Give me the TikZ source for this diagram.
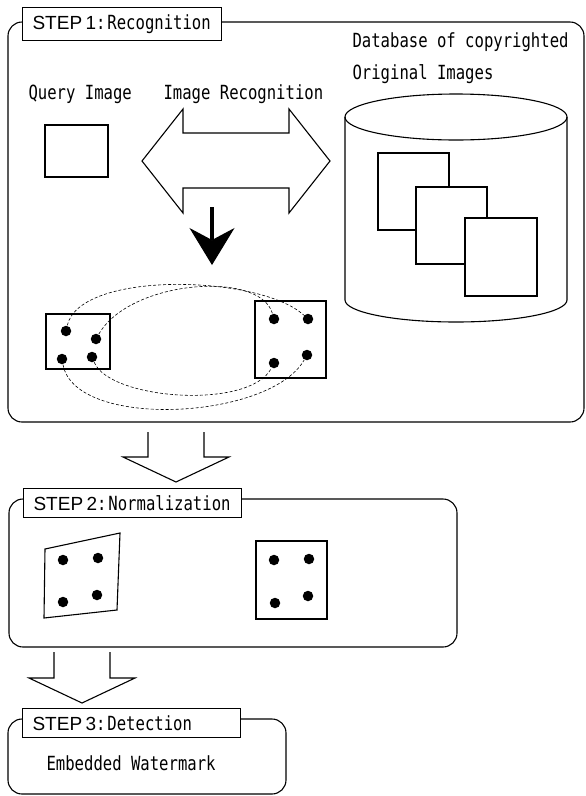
\documentclass[tikz,border=0pt]{standalone}
\usepackage{fontspec}
\setsansfont{Liberation Sans}
\newfontfamily\gothic[FakeStretch=0.8]{DejaVu Sans Mono}
\newcommand\gothicfont{\gothic\fontsize{19.5}{22}\selectfont}
\newcommand\stepfont{\sffamily\fontsize{19}{21}\selectfont}
\usetikzlibrary{arrows.meta}

\begin{document}
\begin{tikzpicture}[x=1pt,y=-1pt,line width=1.1pt,
  txt/.style={anchor=base west,inner sep=0pt,font=\gothicfont},
  steplabel/.style={draw,fill=white,anchor=north west,minimum height=29pt,
    inner xsep=10pt,inner ysep=0pt,align=left,text width=198pt},
  stepframe/.style={rounded corners=14pt},
  dot/.style={circle,fill,inner sep=0pt,minimum size=10.5pt},
  match/.style={line width=.6pt,dash pattern=on 3pt off 2pt}]
  \fill[white] (0,0) rectangle (586,796);
  \useasboundingbox (0,0) rectangle (586,796);

  % step 1 frame
  \draw[stepframe] (8,22) rectangle (584,422);
  \node[steplabel,text width=179pt,minimum height=33pt] (lbl1) at (22,7)
    {\stepfont STEP 1\gothicfont:\kern2pt Recognition};

  \node[txt] (query) at (28,99) {Query Image};
  \node[txt] (recog) at (163,99) {Image Recognition};
  \node[txt] (db1) at (352,47) {Database of copyrighted};
  \node[txt] (db2) at (352,79) {Original Images};

  \draw (45,125) rectangle (108,177);

  % two-headed arrow
  \draw (142,161) -- (183,109) -- (183,133) -- (289,133) -- (289,109) -- (330,161)
    -- (289,213) -- (289,188) -- (183,188) -- (183,213) -- cycle;

  % database cylinder
  \draw[fill=white] (345,117) -- (345,300)
    arc[start angle=180,end angle=0,x radius=111,y radius=22] -- (567,117);
  \draw (456,117) ellipse[x radius=111,y radius=23];
  \draw[fill=white] (378,153) rectangle (449,230);
  \draw[fill=white] (416,187) rectangle (487,264);
  \draw[fill=white] (465,218) rectangle (537,296);

  % result arrow
  \coordinate (mtop) at (212,207);
  \coordinate (mbot) at (212,265);
  \draw[line width=4.5pt,-{Stealth[length=37pt,width=45pt,inset=12pt,line width=1pt]}]
    (mtop) -- (mbot);

  % matched points
  \draw[line width=1.4pt] (46,314) rectangle (110,369);
  \draw[line width=1.4pt] (255,301) rectangle (326,378);
  \node[dot] (q1) at (66,331) {};
  \node[dot] (q2) at (96,339) {};
  \node[dot] (q3) at (62,359) {};
  \node[dot] (q4) at (92,357) {};
  \node[dot] (d1) at (274,319) {};
  \node[dot] (d2) at (308,319) {};
  \node[dot] (d3) at (274,363) {};
  \node[dot] (d4) at (307,355) {};
  \draw[match] (q1) .. controls (80,270) and (260,275) .. (d2);
  \draw[match] (q2) .. controls (130,280) and (260,270) .. (d1);
  \draw[match] (q3) .. controls (75,430) and (270,420) .. (d4);
  \draw[match] (q4) .. controls (110,400) and (250,410) .. (d3);

  \coordinate (h1) at (176,432);
  \draw[shift={(h1)}] (-28,0) -- (-28,25) -- (-53,25) -- (0,50) -- (53,25) -- (28,25) -- (28,0);

  % step 2 frame
  \draw[stepframe] (9,499) rectangle (457,647);
  \node[steplabel] (lbl2) at (23,488) {\stepfont STEP 2\gothicfont:\kern2pt Normalization};

  \draw (45,549) -- (120,533) -- (117,610) -- (44,618) -- cycle;
  \node[dot] (n1) at (63,560) {};
  \node[dot] (n2) at (98,558) {};
  \node[dot] (n3) at (63,602) {};
  \node[dot] (n4) at (97,595) {};
  \draw (256,541) rectangle (327,619);
  \node[dot] (m1) at (274,560) {};
  \node[dot] (m2) at (309,559) {};
  \node[dot] (m3) at (275,603) {};
  \node[dot] (m4) at (308,596) {};

  \coordinate (h2) at (82,652);
  \draw[shift={(h2)}] (-28,0) -- (-28,26) -- (-53,26) -- (0,51) -- (53,26) -- (28,26) -- (28,0);

  % step 3 frame
  \draw[stepframe] (8,719) rectangle (286,794);
  \node[steplabel] (lbl3) at (22,708) {\stepfont STEP 3\gothicfont:\kern2pt Detection};
  \node[txt] (wm) at (46,770) {Embedded Watermark};
\end{tikzpicture}
\end{document}
